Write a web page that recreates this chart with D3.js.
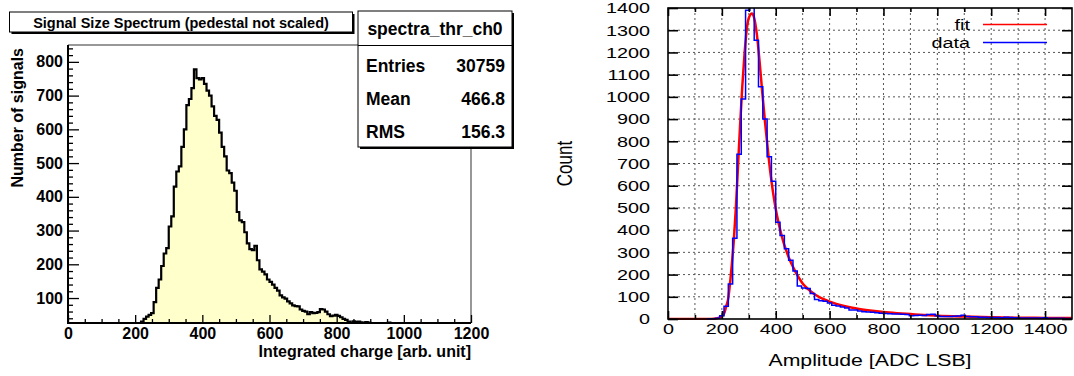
<!DOCTYPE html>
<html>
<head>
<meta charset="utf-8">
<script src="https://cdn.jsdelivr.net/npm/d3@7"></script>
<style>
  html, body { margin: 0; padding: 0; background: #fff; }
  svg { display: block; }
  .root text { font-family: "Liberation Sans", Arial, sans-serif; font-weight: bold; fill: #000; }
  .gp text { font-family: "Liberation Sans", Arial, sans-serif; fill: #000; }
</style>
</head>
<body>
<svg id="chart" width="1074" height="376"></svg>
<script>
// ---- left panel (ROOT histogram) ----
const chargeTitle = "Signal Size Spectrum (pedestal not scaled)";
const chargeStatsName = "spectra_thr_ch0";
const chargeStatsRows = [["Entries", "30759"], ["Mean", "466.8"], ["RMS", "156.3"]];
const chargeXLabel = "Integrated charge [arb. unit]";
const chargeYLabel = "Number of signals";
const chargeFirstEdge = 195;
const chargeBinWidth = 7.5;
const chargeCounts = [
  4, 12, 22, 30, 38, 45, 50, 55, 88, 130,
  155, 195, 232, 248, 312, 342, 430, 475, 490, 548,
  600, 672, 690, 722, 778, 752, 748, 752, 735, 715,
  700, 668, 640, 628, 590, 548, 520, 478, 470, 442,
  418, 355, 330, 325, 295, 262, 245, 242, 255, 212,
  185, 178, 170, 155, 148, 140, 130, 122, 108, 102,
  98, 90, 84, 78, 76, 75, 66, 62, 60, 52,
  58, 55, 56, 58, 67, 66, 60, 52, 46, 48,
  50, 47, 43, 38, 35, 30, 27, 31, 29, 30,
  28, 26, 29, 27, 24, 26, 22, 20, 25, 20,
  21, 27, 18, 15, 12, 8, 5, 3
];
const chargeXTicks = [0, 200, 400, 600, 800, 1000, 1200];
const chargeYTicks = [100, 200, 300, 400, 500, 600, 700, 800];

// ---- right panel (gnuplot fit) ----
const ampXLabel = "Amplitude [ADC LSB]";
const ampYLabel = "Count";
const ampFirstEdge = 144;
const ampBinWidth = 16;
const ampCounts = [
  1, 1, 3, 15, 57, 157, 364, 742, 990, 1390,
  1430, 1255, 1045, 900, 730, 620, 436, 376, 316, 264,
  216, 148, 140, 137, 115, 88, 82, 80, 72, 62,
  58, 54, 50, 41, 40, 36, 33, 31, 30, 28,
  26, 25, 24, 23, 22, 21, 20, 15, 16, 17,
  16, 20, 21, 15, 11, 11, 11, 12, 14, 17,
  11, 10, 10, 8, 8, 7, 7, 7, 6, 8,
  7, 6, 5, 5, 5, 5, 5, 4, 6, 3,
  3, 3, 3, 2, 2
];
const fitX = [0, 150, 170, 190, 200, 210, 216, 224, 230, 238, 245, 252, 260, 268, 276, 284, 292, 300, 312, 320,
  330, 340, 350, 360, 370, 380, 390, 400, 410, 420, 430, 440, 450, 460, 470, 480, 490, 500, 520, 540,
  560, 580, 600, 625, 650, 700, 750, 800, 850, 900, 950, 1000, 1100, 1200, 1300, 1400, 1500];
const fitY = [0, 0, 1, 6, 12, 30, 57, 95, 157, 260, 364, 500, 690, 880, 1050, 1190, 1300, 1355, 1375, 1355,
  1280, 1160, 1020, 890, 770, 660, 570, 495, 435, 385, 340, 305, 272, 245, 220, 198, 178, 160, 135, 115,
  100, 88, 78, 68, 60, 47, 38, 31, 26, 22, 18, 15, 11, 8, 6, 5, 4];
const ampXTicks = [0, 200, 400, 600, 800, 1000, 1200, 1400];
const ampXGrid = d3.range(100, 1500, 100);
const ampYTicks = d3.range(0, 1500, 100);
const legendItems = [{ name: "fit", color: "#ff0000" }, { name: "data", color: "#0000ff" }];

const svg = d3.select("#chart");
const fmt = d3.format("d");

// ============ LEFT ============
const L = { left: 68, right: 471, top: 45, bottom: 323 };
const xL = d3.scaleLinear().domain([0, 1200]).range([L.left, L.right]);
const yL = d3.scaleLinear().domain([26, 850]).range([L.bottom, L.top]);

const gl = svg.append("g").attr("class", "root");

gl.append("clipPath").attr("id", "clipL")
  .append("rect").attr("x", L.left).attr("y", L.top)
  .attr("width", L.right - L.left).attr("height", L.bottom - L.top);

const chargePts = chargeCounts.map((c, i) => [chargeFirstEdge + i * chargeBinWidth, c]);
chargePts.push([chargeFirstEdge + chargeCounts.length * chargeBinWidth, chargeCounts[chargeCounts.length - 1]]);

const histArea = d3.area()
  .x(d => xL(d[0])).y0(yL(0)).y1(d => yL(d[1]))
  .curve(d3.curveStepAfter);
const histLine = d3.line()
  .x(d => xL(d[0])).y(d => yL(d[1]))
  .curve(d3.curveStepAfter);

const histG = gl.append("g").attr("clip-path", "url(#clipL)");
histG.append("path").attr("d", histArea(chargePts)).attr("fill", "#ffffcc");
histG.append("path").attr("d", histLine(chargePts))
  .attr("fill", "none").attr("stroke", "#000").attr("stroke-width", 2.2)
  .attr("stroke-linejoin", "miter");

// frame (top/right grey)
gl.append("path")
  .attr("d", `M${L.left},${L.top}H${L.right}V${L.bottom}`)
  .attr("fill", "none").attr("stroke", "#777").attr("stroke-width", 1.5);

// y axis
const yMinor = d3.range(40, 850, 20).filter(v => v % 100 !== 0);
gl.append("g").attr("transform", `translate(${L.left},0)`)
  .call(d3.axisLeft(yL).tickValues(yMinor).tickSize(-5).tickFormat(""))
  .call(g => g.select(".domain").remove())
  .call(g => g.selectAll("line").attr("stroke", "#000").attr("stroke-width", 1.3));
gl.append("g").attr("transform", `translate(${L.left},0)`)
  .call(d3.axisLeft(yL).tickValues(chargeYTicks).tickSize(-11).tickPadding(5).tickFormat(fmt))
  .call(g => g.select(".domain").remove())
  .call(g => g.selectAll("line").attr("stroke", "#000").attr("stroke-width", 1.3))
  .call(g => g.selectAll("text").attr("font-size", 16).attr("font-family", null));

// x axis
const xMinor = d3.range(50, 1200, 50).filter(v => v % 200 !== 0);
gl.append("g").attr("transform", `translate(0,${L.bottom})`)
  .call(d3.axisBottom(xL).tickValues(xMinor).tickSize(-4).tickFormat(""))
  .call(g => g.select(".domain").remove())
  .call(g => g.selectAll("line").attr("stroke", "#000").attr("stroke-width", 1.3));
gl.append("g").attr("transform", `translate(0,${L.bottom})`)
  .call(d3.axisBottom(xL).tickValues(chargeXTicks).tickSize(-8).tickPadding(5).tickFormat(fmt))
  .call(g => g.select(".domain").remove())
  .call(g => g.selectAll("line").attr("stroke", "#000").attr("stroke-width", 1.3))
  .call(g => g.selectAll("text").attr("font-size", 16).attr("font-family", null));

gl.append("line").attr("x1", L.left).attr("x2", L.left).attr("y1", L.top).attr("y2", L.bottom + 1)
  .attr("stroke", "#000").attr("stroke-width", 2);
gl.append("line").attr("x1", L.left - 1).attr("x2", L.right).attr("y1", L.bottom).attr("y2", L.bottom)
  .attr("stroke", "#000").attr("stroke-width", 2);

// axis titles
gl.append("text").attr("x", L.right).attr("y", 357).attr("text-anchor", "end")
  .attr("font-size", 16).text(chargeXLabel);
gl.append("text").attr("transform", `translate(23,${L.top + 3}) rotate(-90)`)
  .attr("text-anchor", "end").attr("font-size", 16).text(chargeYLabel);

// title box
const tb = { x: 9.5, y: 12, w: 343, h: 20 };
gl.append("rect").attr("x", tb.x + 2).attr("y", tb.y + 2).attr("width", tb.w).attr("height", tb.h).attr("fill", "#000");
gl.append("rect").attr("x", tb.x).attr("y", tb.y).attr("width", tb.w).attr("height", tb.h)
  .attr("fill", "#fff").attr("stroke", "#000").attr("stroke-width", 1);
gl.append("text").attr("x", tb.x + tb.w / 2).attr("y", tb.y + 15.5).attr("text-anchor", "middle")
  .attr("font-size", 14.5).text(chargeTitle);

// stats box
const sb = { x: 358, y: 11, w: 154, h: 136 };
gl.append("rect").attr("x", sb.x + 2).attr("y", sb.y + 2).attr("width", sb.w).attr("height", sb.h).attr("fill", "#000");
gl.append("rect").attr("x", sb.x).attr("y", sb.y).attr("width", sb.w).attr("height", sb.h)
  .attr("fill", "#fff").attr("stroke", "#000").attr("stroke-width", 1);
gl.append("line").attr("x1", sb.x).attr("x2", sb.x + sb.w).attr("y1", 45.5).attr("y2", 45.5)
  .attr("stroke", "#000").attr("stroke-width", 1);
gl.append("text").attr("x", sb.x + sb.w / 2).attr("y", 35).attr("text-anchor", "middle")
  .attr("font-size", 17.5).text(chargeStatsName);
const rowY = d3.scalePoint().domain(chargeStatsRows.map(r => r[0])).range([72, 138]);
chargeStatsRows.forEach(([k, v]) => {
  gl.append("text").attr("x", sb.x + 8).attr("y", rowY(k)).attr("font-size", 17.5).text(k);
  gl.append("text").attr("x", sb.x + sb.w - 7).attr("y", rowY(k)).attr("text-anchor", "end")
    .attr("font-size", 17.5).text(v);
});

// ============ RIGHT ============
const R = { left: 668, right: 1072, top: 8, bottom: 319 };
const xR = d3.scaleLinear().domain([0, 1500]).range([R.left, R.right]);
const yR = d3.scaleLinear().domain([0, 1400]).range([R.bottom, R.top]);
const sx = 1.32;

const gr = svg.append("g").attr("class", "gp");
gr.append("clipPath").attr("id", "clipR")
  .append("rect").attr("x", R.left).attr("y", R.top)
  .attr("width", R.right - R.left).attr("height", R.bottom - R.top + 1);

// grid
gr.append("g").selectAll("line").data(ampXGrid).join("line")
  .attr("x1", d => xR(d)).attr("x2", d => xR(d)).attr("y1", R.top).attr("y2", R.bottom)
  .attr("stroke", "#555").attr("stroke-width", 1).attr("stroke-dasharray", "2,3");
gr.append("g").selectAll("line").data(ampYTicks.filter(v => v > 0 && v < 1400)).join("line")
  .attr("x1", R.left).attr("x2", R.right).attr("y1", d => yR(d)).attr("y2", d => yR(d))
  .attr("stroke", "#555").attr("stroke-width", 1).attr("stroke-dasharray", "2,3");

const plotG = gr.append("g").attr("clip-path", "url(#clipR)");
const fitLine = d3.line().x((d, i) => xR(fitX[i])).y(d => yR(d)).curve(d3.curveMonotoneX);
plotG.append("path").attr("d", fitLine(fitY))
  .attr("fill", "none").attr("stroke", legendItems[0].color).attr("stroke-width", 2.5);

const ampPts = ampCounts.map((c, i) => [ampFirstEdge + i * ampBinWidth, c]);
ampPts.push([ampFirstEdge + ampCounts.length * ampBinWidth, ampCounts[ampCounts.length - 1]]);
const stepLine = d3.line().x(d => xR(d[0])).y(d => yR(d[1])).curve(d3.curveStepAfter);
plotG.append("path").attr("d", stepLine(ampPts))
  .attr("fill", "none").attr("stroke", legendItems[1].color).attr("stroke-width", 1.5);

// frame
gr.append("rect").attr("x", R.left).attr("y", R.top).attr("width", R.right - R.left).attr("height", R.bottom - R.top)
  .attr("fill", "none").attr("stroke", "#000").attr("stroke-width", 1.6);

// axes (ticks inward, mirrored)
const xMinorR = ampXGrid.filter(v => v % 200 !== 0);
const styleTicks = g => {
  g.select(".domain").remove();
  g.selectAll("line").attr("stroke", "#000").attr("stroke-width", 1.6);
};
gr.append("g").attr("transform", `translate(0,${R.bottom})`)
  .call(d3.axisBottom(xR).tickValues(xMinorR).tickSize(-4).tickFormat("")).call(styleTicks);
gr.append("g").attr("transform", `translate(0,${R.top})`)
  .call(d3.axisTop(xR).tickValues(xMinorR).tickSize(-4).tickFormat("")).call(styleTicks);
gr.append("g").attr("transform", `translate(0,${R.top})`)
  .call(d3.axisTop(xR).tickValues(ampXTicks).tickSize(-8).tickFormat("")).call(styleTicks);
gr.append("g").attr("transform", `translate(${R.right},0)`)
  .call(d3.axisRight(yR).tickValues(ampYTicks).tickSize(-10).tickFormat("")).call(styleTicks);

gr.append("g").attr("transform", `translate(0,${R.bottom})`)
  .call(d3.axisBottom(xR).tickValues(ampXTicks).tickSize(-8).tickPadding(4.5).tickFormat(fmt))
  .call(styleTicks)
  .call(g => g.selectAll("text").attr("font-size", 15).attr("font-family", null)
    .attr("transform", `scale(${sx},1)`));
gr.append("g").attr("transform", `translate(${R.left},0)`)
  .call(d3.axisLeft(yR).tickValues(ampYTicks).tickSize(-10).tickPadding(18).tickFormat(fmt))
  .call(styleTicks)
  .call(g => g.selectAll("text").attr("font-size", 15).attr("font-family", null)
    .attr("x", null).attr("transform", `translate(-18,0) scale(${sx},1)`));

// titles
gr.append("text").attr("transform", `translate(${(R.left + R.right) / 2},366) scale(1.25,1)`)
  .attr("text-anchor", "middle").attr("font-size", 17).text(ampXLabel);
gr.append("text").attr("transform", `translate(572,${(R.top + R.bottom) / 2}) scale(1.3,1) rotate(-90)`)
  .attr("text-anchor", "middle").attr("font-size", 17).text(ampYLabel);

// legend
const legY = d3.scalePoint().domain(legendItems.map(d => d.name)).range([24.5, 42.5]);
legendItems.forEach(d => {
  gr.append("text").attr("transform", `translate(970,${legY(d.name) + 5.3}) scale(${sx},1)`)
    .attr("text-anchor", "end").attr("font-size", 15).text(d.name);
  gr.append("line").attr("x1", 983).attr("x2", 1047).attr("y1", legY(d.name)).attr("y2", legY(d.name))
    .attr("stroke", d.color).attr("stroke-width", 1.5);
});
</script>
</body>
</html>
